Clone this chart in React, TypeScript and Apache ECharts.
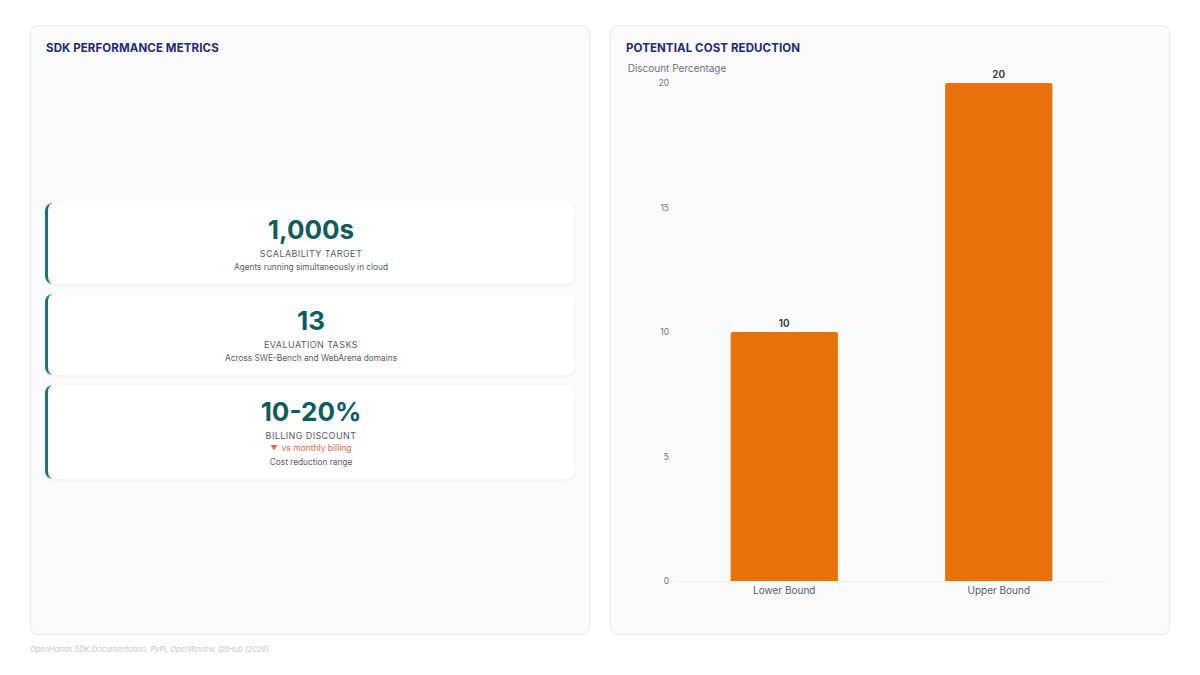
import { useEffect, useRef } from "react";
import * as echarts from "echarts";

const FONT = "Inter, 'Noto Sans', sans-serif";

// Chart data
const categories = ["Lower Bound", "Upper Bound"];
const discountValues = [10, 20];
const yTicks = [0, 5, 10, 15, 20];

// KPI cards
const metricValues = ["1,000s", "13", "10-20%"];
const metricLabels = ["SCALABILITY TARGET", "EVALUATION TASKS", "BILLING DISCOUNT"];
const metricNotes = ["Agents running simultaneously in cloud", "Across SWE-Bench and WebArena domains", "Cost reduction range"];
const metricDeltas = [null, null, "vs monthly billing"];

const SOURCE = "OpenHands SDK Documentation, PyPI, OpenReview, GitHub (2026)";

const panel: React.CSSProperties = {
  position: "absolute",
  top: 25,
  width: 560,
  height: 610,
  background: "#f9fbfd",
  border: "1px solid #e6e9ee",
  borderRadius: 8,
  boxSizing: "border-box",
};

const panelTitle: React.CSSProperties = {
  position: "absolute",
  left: 15,
  top: 15,
  fontSize: 11.5,
  fontWeight: 700,
  letterSpacing: 0.1,
  color: "#1f2a7a",
  zIndex: 2,
};

function CostChart() {
  const boxRef = useRef<HTMLDivElement>(null);
  useEffect(() => {
    if (!boxRef.current) return;
    const inst = echarts.init(boxRef.current, undefined, { renderer: "svg" });
    inst.setOption({
      animation: false,
      textStyle: { fontFamily: FONT },
      grid: { left: 66, right: 65, top: 57, bottom: 55 },
      xAxis: {
        type: "category",
        data: categories,
        axisTick: { show: false },
        axisLine: { lineStyle: { color: "#eceef2" } },
        axisLabel: { color: "#555b66", fontSize: 10, margin: 4 },
      },
      yAxis: {
        type: "value",
        min: yTicks[0],
        max: yTicks[yTicks.length - 1],
        interval: yTicks[1] - yTicks[0],
        name: "Discount Percentage",
        nameGap: 10,
        nameTextStyle: { color: "#6b7280", fontSize: 10, align: "center" },
        axisLine: { show: false },
        axisTick: { show: false },
        splitLine: { show: false },
        axisLabel: { color: "#6b7280", fontSize: 8.5, margin: 8 },
      },
      series: [
        {
          type: "bar",
          data: discountValues,
          barWidth: "50%",
          itemStyle: { color: "#e8710a", borderRadius: [2, 2, 0, 0] },
          label: { show: true, position: "top", color: "#333", fontSize: 10, fontWeight: 600, distance: 4 },
        },
      ],
    });
    return () => inst.dispose();
  }, []);
  return <div ref={boxRef} style={{ position: "absolute", left: 0, top: 0, width: 560, height: 610 }} />;
}

export default function App() {
  return (
    <div style={{ position: "fixed", inset: 0, width: 1200, height: 675, background: "#ffffff", fontFamily: FONT, overflow: "hidden" }}>
      <div style={{ ...panel, left: 30 }}>
        <div style={panelTitle}>SDK PERFORMANCE METRICS</div>
        <div style={{ position: "absolute", left: 14, top: 177, width: 529 }}>
          {metricValues.map((v, i) => (
            <div
              key={i}
              style={{
                background: "#ffffff",
                borderLeft: "3px solid #16777a",
                borderRadius: 8,
                boxShadow: "0 1px 4px rgba(0,0,0,0.05)",
                marginBottom: 10,
                padding: "12px 0 10px",
                textAlign: "center",
                boxSizing: "border-box",
              }}
            >
              <div style={{ fontSize: 26, fontWeight: 700, color: "#0e5c5f", lineHeight: "30px" }}>{v}</div>
              <div style={{ fontSize: 9, color: "#555b66", letterSpacing: 0.4, marginTop: 2, lineHeight: "13px" }}>{metricLabels[i]}</div>
              {metricDeltas[i] && (
                <div style={{ fontSize: 8.5, color: "#e2674a", marginTop: 0, lineHeight: "13px" }}>
                  <span style={{ fontSize: 7, marginRight: 4 }}>▼</span>
                  {metricDeltas[i]}
                </div>
              )}
              <div style={{ fontSize: 8.3, color: "#555b66", marginTop: 1, lineHeight: "13px" }}>{metricNotes[i]}</div>
            </div>
          ))}
        </div>
      </div>
      <div style={{ ...panel, left: 610 }}>
        <CostChart />
        <div style={panelTitle}>POTENTIAL COST REDUCTION</div>
      </div>
      <div style={{ position: "absolute", left: 30, top: 645, fontSize: 7.5, fontStyle: "italic", color: "#c3c7cf" }}>{SOURCE}</div>
    </div>
  );
}
